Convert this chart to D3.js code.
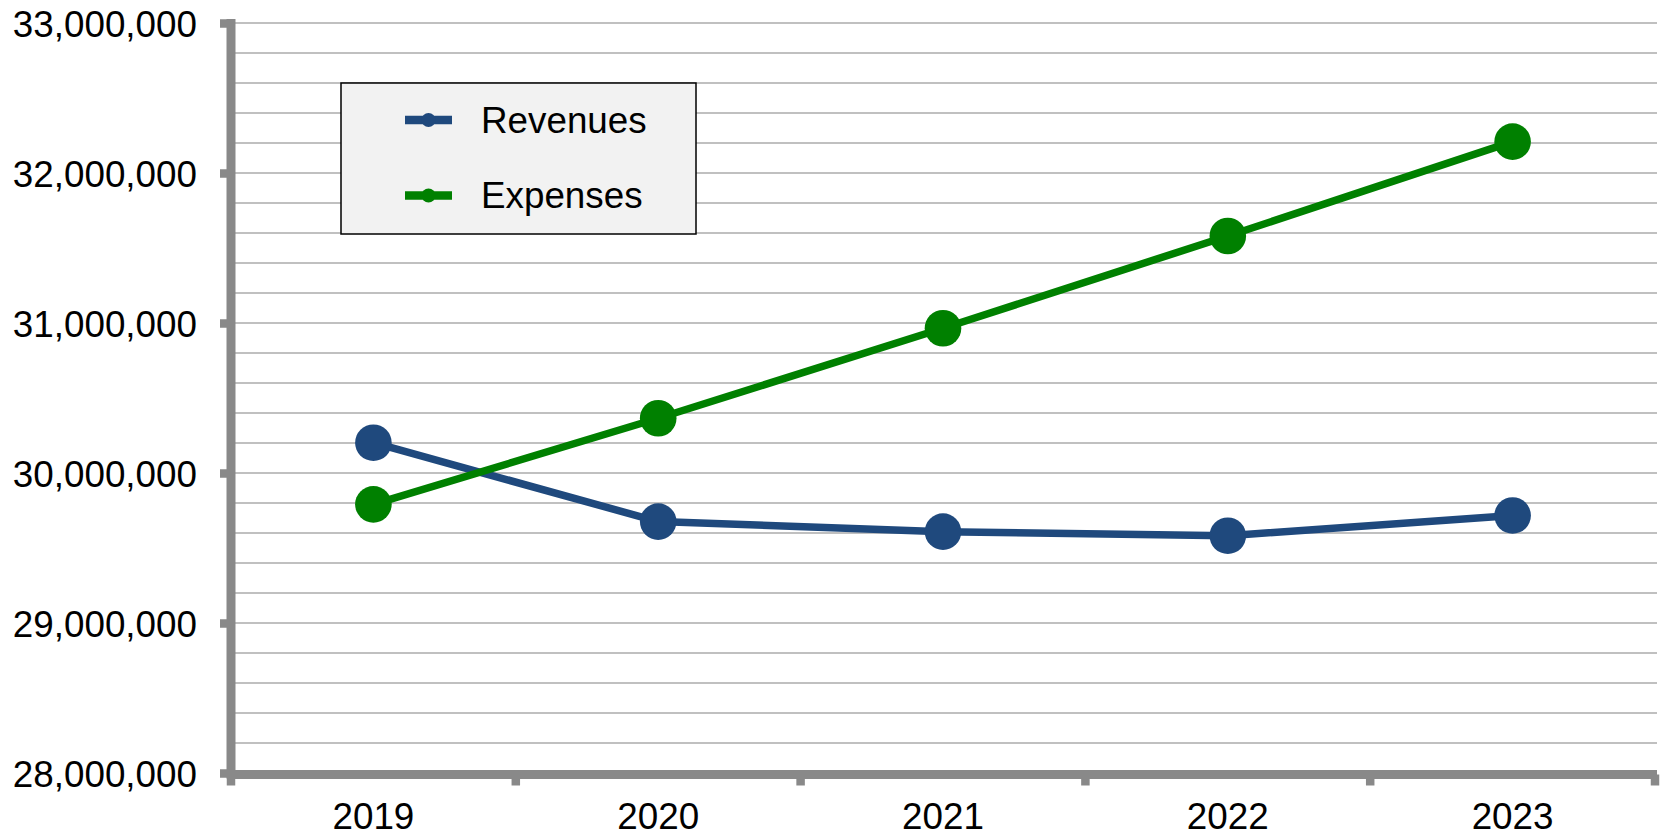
<!DOCTYPE html>
<html>
<head>
<meta charset="utf-8">
<script src="https://cdn.jsdelivr.net/npm/d3@7/dist/d3.min.js"></script>
<style>
  html, body { margin: 0; padding: 0; background: #ffffff; }
  svg { display: block; font-family: "Liberation Sans", Arial, sans-serif; }
</style>
</head>
<body>
<svg id="chart" width="1663" height="836"></svg>
<script>
// Fiscal years on the category axis
const years = ["2019", "2020", "2021", "2022", "2023"];
// Annual totals
const revenues = [30202000, 29676000, 29609000, 29582000, 29717000];
const expenses = [29791000, 30365000, 30965000, 31580000, 32209000];
// Value axis labels and gridline steps
const yTicks = [28000000, 29000000, 30000000, 31000000, 32000000, 33000000];
const yMinorStep = 200000;

const series = [
  { name: "Revenues", values: revenues, color: "#1f497d" },
  { name: "Expenses", values: expenses, color: "#008000" }
];

const svg = d3.select("#chart");
const axisColor = "#898989";
const gridColor = "#c0c0c0";
const fontSize = 36.8;

const x = d3.scaleBand().domain(years).range([231, 1655]).padding(0);
const y = d3.scaleLinear().domain([28000000, 33000000]).range([773, 23]);

// Horizontal gridlines every 200,000
const gridValues = d3.range(28000000 + yMinorStep, 33000000 + 1, yMinorStep);
svg.append("g")
  .selectAll("line")
  .data(gridValues)
  .join("line")
  .attr("x1", x.range()[0] + 4)
  .attr("x2", x.range()[1] + 2)
  .attr("y1", d => y(d))
  .attr("y2", d => y(d))
  .attr("stroke", gridColor)
  .attr("stroke-width", 2);

// Value axis: thick gray stubs on each million
const yAxis = d3.axisLeft(y)
  .tickValues(yTicks)
  .tickSize(11)
  .tickPadding(23)
  .tickFormat(d3.format(","));
const gy = svg.append("g")
  .attr("transform", `translate(${x.range()[0]},0)`)
  .call(yAxis);
gy.select(".domain").remove();
gy.selectAll(".tick line")
  .attr("stroke", axisColor)
  .attr("stroke-width", 8.5);
gy.selectAll(".tick text")
  .attr("fill", "#000")
  .attr("font-size", fontSize)
  .attr("font-family", "Liberation Sans, Arial, sans-serif")
  .attr("dy", "0.36em");

// Category axis: ticks sit on band boundaries
const boundaries = years.map(d => x(d)).concat([x.range()[1]]);
const axisY = y(28000000) + 1.5;
svg.append("g")
  .selectAll("line")
  .data(boundaries)
  .join("line")
  .attr("x1", d => d)
  .attr("x2", d => d)
  .attr("y1", axisY)
  .attr("y2", axisY + 11)
  .attr("stroke", axisColor)
  .attr("stroke-width", 8.5);

// Axis lines
svg.append("line")
  .attr("x1", x.range()[0]).attr("x2", x.range()[0])
  .attr("y1", y(33000000) - 4).attr("y2", axisY + 4)
  .attr("stroke", axisColor).attr("stroke-width", 9);
svg.append("line")
  .attr("x1", x.range()[0] - 4).attr("x2", x.range()[1] + 2)
  .attr("y1", axisY).attr("y2", axisY)
  .attr("stroke", axisColor).attr("stroke-width", 9);

// Category labels
svg.append("g")
  .selectAll("text")
  .data(years)
  .join("text")
  .attr("x", d => x(d) + x.bandwidth() / 2)
  .attr("y", 828.5)
  .attr("text-anchor", "middle")
  .attr("font-size", fontSize)
  .attr("fill", "#000")
  .text(d => d);

// Series lines and markers
const line = d3.line()
  .x((d, i) => x(years[i]) + x.bandwidth() / 2)
  .y(d => y(d));

series.forEach(s => {
  svg.append("path")
    .datum(s.values)
    .attr("d", line)
    .attr("fill", "none")
    .attr("stroke", s.color)
    .attr("stroke-width", 7.5)
    .attr("stroke-linejoin", "round");
  svg.append("g")
    .selectAll("circle")
    .data(s.values)
    .join("circle")
    .attr("cx", (d, i) => x(years[i]) + x.bandwidth() / 2)
    .attr("cy", d => y(d))
    .attr("r", 18.3)
    .attr("fill", s.color);
});

// Legend
const legend = svg.append("g").attr("transform", "translate(341,83)");
legend.append("rect")
  .attr("width", 355)
  .attr("height", 151)
  .attr("fill", "#f2f2f2")
  .attr("stroke", "#000")
  .attr("stroke-width", 1.5);
const items = legend.selectAll("g.item")
  .data(series)
  .join("g")
  .attr("class", "item")
  .attr("transform", (d, i) => `translate(0,${37 + i * 75.5})`);
items.append("line")
  .attr("x1", 64).attr("x2", 111)
  .attr("y1", 0).attr("y2", 0)
  .attr("stroke", d => d.color)
  .attr("stroke-width", 8.5);
items.append("circle")
  .attr("cx", 87.5).attr("cy", 0).attr("r", 7)
  .attr("fill", d => d.color);
items.append("text")
  .attr("x", 140)
  .attr("y", 12.5)
  .attr("font-size", fontSize)
  .attr("fill", "#000")
  .text(d => d.name);
</script>
</body>
</html>
